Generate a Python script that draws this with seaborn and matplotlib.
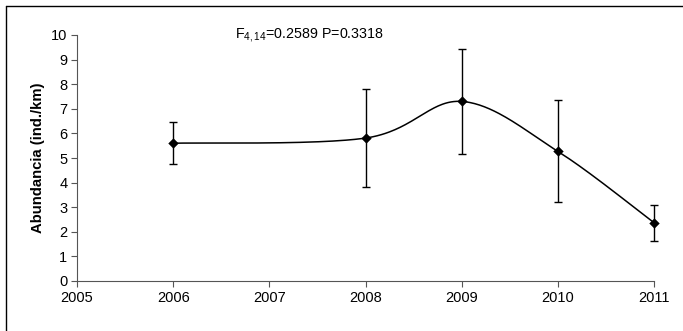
import numpy as np
import matplotlib
matplotlib.use("Agg")
import matplotlib.pyplot as plt
import seaborn as sns
import pandas as pd

years = [2006, 2008, 2009, 2010, 2011]
abundance = [5.60, 5.81, 7.30, 5.27, 2.37]
err_upper = [6.47, 7.79, 9.44, 7.35, 3.10]
err_lower = [4.74, 3.83, 5.15, 3.20, 1.63]
x_ticks = [2005, 2006, 2007, 2008, 2009, 2010, 2011]
y_ticks = list(range(0, 11))
stat_text = r"F$_{4,14}$=0.2589 P=0.3318"

sns.set_style("ticks")
plt.rcParams['font.family'] = ['Liberation Sans', 'DejaVu Sans']
plt.rcParams['mathtext.fontset'] = 'custom'
plt.rcParams['mathtext.rm'] = 'Liberation Sans'
plt.rcParams['mathtext.it'] = 'Liberation Sans'
plt.rcParams['text.color'] = 'black'
plt.rcParams['axes.labelcolor'] = 'black'
plt.rcParams['xtick.labelcolor'] = 'black'
plt.rcParams['ytick.labelcolor'] = 'black'

fig = plt.figure(figsize=(6.83, 3.31), dpi=100)
ax = fig.add_axes([77/683, 1-281/331, (654-77)/683, (281-35)/331])

df = pd.DataFrame({"year": years, "abund": abundance})

# Excel-style smoothed line (Bezier with 1/6 tension), computed in display-like scale
sx, sy = 96.0, 24.6
P = np.column_stack([np.array(years, float)*sx, np.array(abundance)*sy])
n = len(P)
curve = []
for i in range(n-1):
    p0 = P[max(i-1, 0)]; p1 = P[i]; p2 = P[i+1]; p3 = P[min(i+2, n-1)]
    c1 = p1 + (p2 - p0)/6.0
    c2 = p2 - (p3 - p1)/6.0
    t = np.linspace(0, 1, 60)[:, None]
    seg = (1-t)**3*p1 + 3*(1-t)**2*t*c1 + 3*(1-t)*t**2*c2 + t**3*p2
    curve.append(seg)
curve = np.vstack(curve)
ax.plot(curve[:, 0]/sx, curve[:, 1]/sy, color='black', lw=1.1, zorder=2, clip_on=False)

ab = np.array(abundance)
yerr = np.vstack([ab - np.array(err_lower), np.array(err_upper) - ab])
eb = ax.errorbar(years, abundance, yerr=yerr, fmt='none', ecolor='black',
                 elinewidth=1.0, capsize=3, capthick=1.0, zorder=3)
for art in eb.lines[1] + eb.lines[2]:
    art.set_clip_on(False)
sns.scatterplot(data=df, x="year", y="abund", marker='D', color='black',
                s=28, edgecolor='black', linewidth=0, ax=ax, zorder=4, clip_on=False)

ax.set_xlim(2005, 2011)
ax.set_ylim(0, 10)
ax.set_xticks(x_ticks)
ax.set_xticklabels([str(v) for v in x_ticks])
ax.set_yticks(y_ticks)
ax.set_yticklabels([str(v) for v in y_ticks])
ax.tick_params(axis='both', labelsize=10.5, direction='out', length=4, width=0.8,
               color='#555555', labelcolor='black', pad=3)
ax.set_xlabel("")
ax.set_ylabel("Abundancia (ind./km)", fontsize=10.7, fontweight='bold', labelpad=4, color='black')
for s in ['top', 'right']:
    ax.spines[s].set_visible(False)
for s in ['left', 'bottom']:
    ax.spines[s].set_color('#555555')
    ax.spines[s].set_linewidth(0.8)

fig.text(235/683, 1-35/331, stat_text, fontsize=10.3, ha='left', va='center', color='black')

# figure border (left and top visible)
fig.add_artist(plt.Line2D([6/683, 6/683], [0, 1-6/331], color='black', lw=1.0, transform=fig.transFigure))
fig.add_artist(plt.Line2D([6/683, 1], [1-6/331, 1-6/331], color='black', lw=1.0, transform=fig.transFigure))

fig.savefig("out.png", dpi=100)
